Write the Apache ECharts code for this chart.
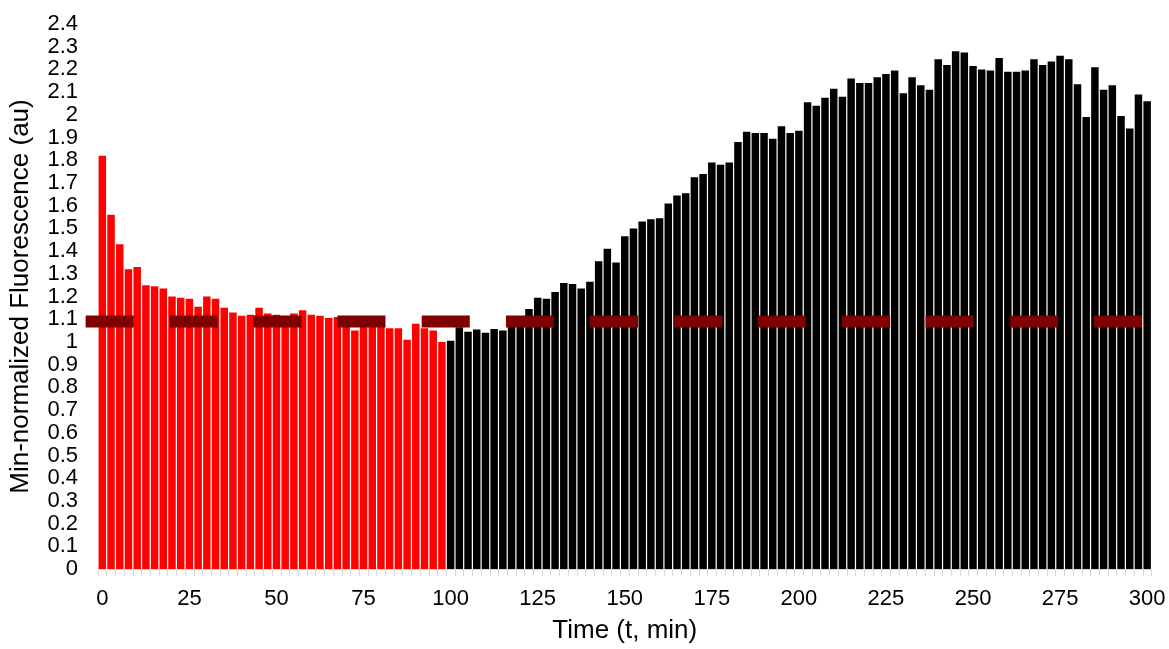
<!DOCTYPE html>
<html>
<head>
<meta charset="utf-8">
<script src="https://cdn.jsdelivr.net/npm/echarts@6/dist/echarts.min.js"></script>
<style>
  html, body { margin: 0; padding: 0; background: #ffffff; }
  #chart { width: 1169px; height: 649px; }
</style>
</head>
<body>
<div id="chart"></div>
<script>
// Sampling times (min), one bar per reading
const timeMin = [0,2.5,5,7.5,10,12.5,15,17.5,20,22.5,25,27.5,30,32.5,35,37.5,40,42.5,45,47.5,
  50,52.5,55,57.5,60,62.5,65,67.5,70,72.5,75,77.5,80,82.5,85,87.5,90,92.5,95,97.5,
  100,102.5,105,107.5,110,112.5,115,117.5,120,122.5,125,127.5,130,132.5,135,137.5,140,142.5,145,147.5,
  150,152.5,155,157.5,160,162.5,165,167.5,170,172.5,175,177.5,180,182.5,185,187.5,190,192.5,195,197.5,
  200,202.5,205,207.5,210,212.5,215,217.5,220,222.5,225,227.5,230,232.5,235,237.5,240,242.5,245,247.5,
  250,252.5,255,257.5,260,262.5,265,267.5,270,272.5,275,277.5,280,282.5,285,287.5,290,292.5,295,297.5,300];

// Min-normalized fluorescence, first phase (0 - 97.5 min)
const phaseOne = [1.82,1.56,1.43,1.32,1.33,1.25,1.245,1.235,1.20,1.195,
  1.19,1.155,1.20,1.19,1.15,1.13,1.115,1.12,1.15,1.125,
  1.12,1.11,1.125,1.14,1.12,1.115,1.105,1.11,1.09,1.05,
  1.09,1.085,1.08,1.06,1.06,1.01,1.08,1.06,1.05,1.00];

// Min-normalized fluorescence, second phase (100 - 300 min)
const phaseTwo = [1.005,1.065,1.045,1.055,1.04,1.057,1.05,1.08,1.10,1.145,
  1.195,1.19,1.22,1.26,1.255,1.235,1.265,1.355,1.41,1.35,
  1.465,1.50,1.53,1.54,1.545,1.61,1.645,1.655,1.725,1.74,
  1.79,1.78,1.79,1.88,1.925,1.92,1.92,1.895,1.95,1.92,
  1.93,2.055,2.04,2.075,2.115,2.08,2.16,2.14,2.14,2.165,
  2.18,2.195,2.095,2.165,2.13,2.11,2.245,2.22,2.28,2.275,
  2.215,2.20,2.195,2.25,2.19,2.19,2.195,2.245,2.22,2.235,
  2.26,2.245,2.135,1.99,2.21,2.11,2.13,1.995,1.94,2.09,2.06];

// Pulse windows (min): start and end of each period, drawn at a fixed level
const pulseStart = [-4.8,19.3,43.4,67.5,91.7,115.9,140.0,164.2,188.2,212.4,236.4,260.6,284.7];
const pulseEnd   = [9.0,33.1,57.2,81.3,105.5,129.6,153.8,178.0,202.0,226.2,250.2,274.4,298.5];
const pulseLevel = 1.09;

// Tick labels shown along the time axis
const timeTicks = ['0','25','50','75','100','125','150','175','200','225','250','275','300'];

const font = 'Liberation Sans, Arial, sans-serif';
const blanksAfter = new Array(timeMin.length - phaseOne.length).fill('-');
const blanksBefore = new Array(phaseOne.length).fill('-');
const pulses = pulseStart.map((s, i) => [s, pulseEnd[i], pulseLevel]);

const chart = echarts.init(document.getElementById('chart'), null, { renderer: 'canvas' });
chart.setOption({
  animation: false,
  backgroundColor: '#ffffff',
  grid: { left: 97.5, right: 17.5, top: 24, bottom: 79, containLabel: false },
  xAxis: [
    {
      type: 'category',
      data: timeMin.map(String),
      boundaryGap: true,
      name: 'Time (t, min)',
      nameLocation: 'middle',
      nameGap: 49,
      nameTextStyle: { fontFamily: font, fontSize: 26, color: '#000' },
      axisLine: { show: true, lineStyle: { color: '#d9d9d9', width: 1 } },
      axisTick: { show: true, interval: 0, alignWithLabel: false, length: 7, lineStyle: { color: '#d9d9d9' } },
      axisLabel: {
        interval: 9,
        margin: 19,
        fontFamily: font,
        fontSize: 22,
        color: '#000',
        formatter: function (v) { return timeTicks.indexOf(v) >= 0 ? v : ''; }
      },
      splitLine: { show: false }
    },
    { type: 'value', min: -1.25, max: 301.25, show: false }
  ],
  yAxis: {
    type: 'value',
    min: 0,
    max: 2.4,
    interval: 0.1,
    name: 'Min-normalized Fluorescence (au)',
    nameLocation: 'middle',
    nameRotate: 90,
    nameGap: 64,
    nameTextStyle: { fontFamily: font, fontSize: 26, color: '#000' },
    axisLine: { show: false },
    axisTick: { show: false },
    splitLine: { show: false },
    axisLabel: { margin: 20, fontFamily: font, fontSize: 22, color: '#000' }
  },
  series: [
    {
      type: 'bar',
      xAxisIndex: 0,
      data: phaseOne.concat(blanksAfter),
      barGap: '-100%',
      barCategoryGap: '14%',
      itemStyle: { color: '#ff0000' }
    },
    {
      type: 'bar',
      xAxisIndex: 0,
      data: blanksBefore.concat(phaseTwo),
      barGap: '-100%',
      barCategoryGap: '14%',
      itemStyle: { color: '#000000' }
    },
    {
      type: 'custom',
      xAxisIndex: 1,
      yAxisIndex: 0,
      z: 10,
      clip: false,
      encode: { x: [0, 1], y: 2 },
      data: pulses,
      renderItem: function (params, api) {
        const a = api.coord([api.value(0), api.value(2)]);
        const b = api.coord([api.value(1), api.value(2)]);
        return {
          type: 'rect',
          z2: 10,
          shape: { x: a[0], y: a[1] - 6, width: b[0] - a[0], height: 12 },
          style: { fill: '#7f0000' }
        };
      }
    }
  ]
});
</script>
</body>
</html>
